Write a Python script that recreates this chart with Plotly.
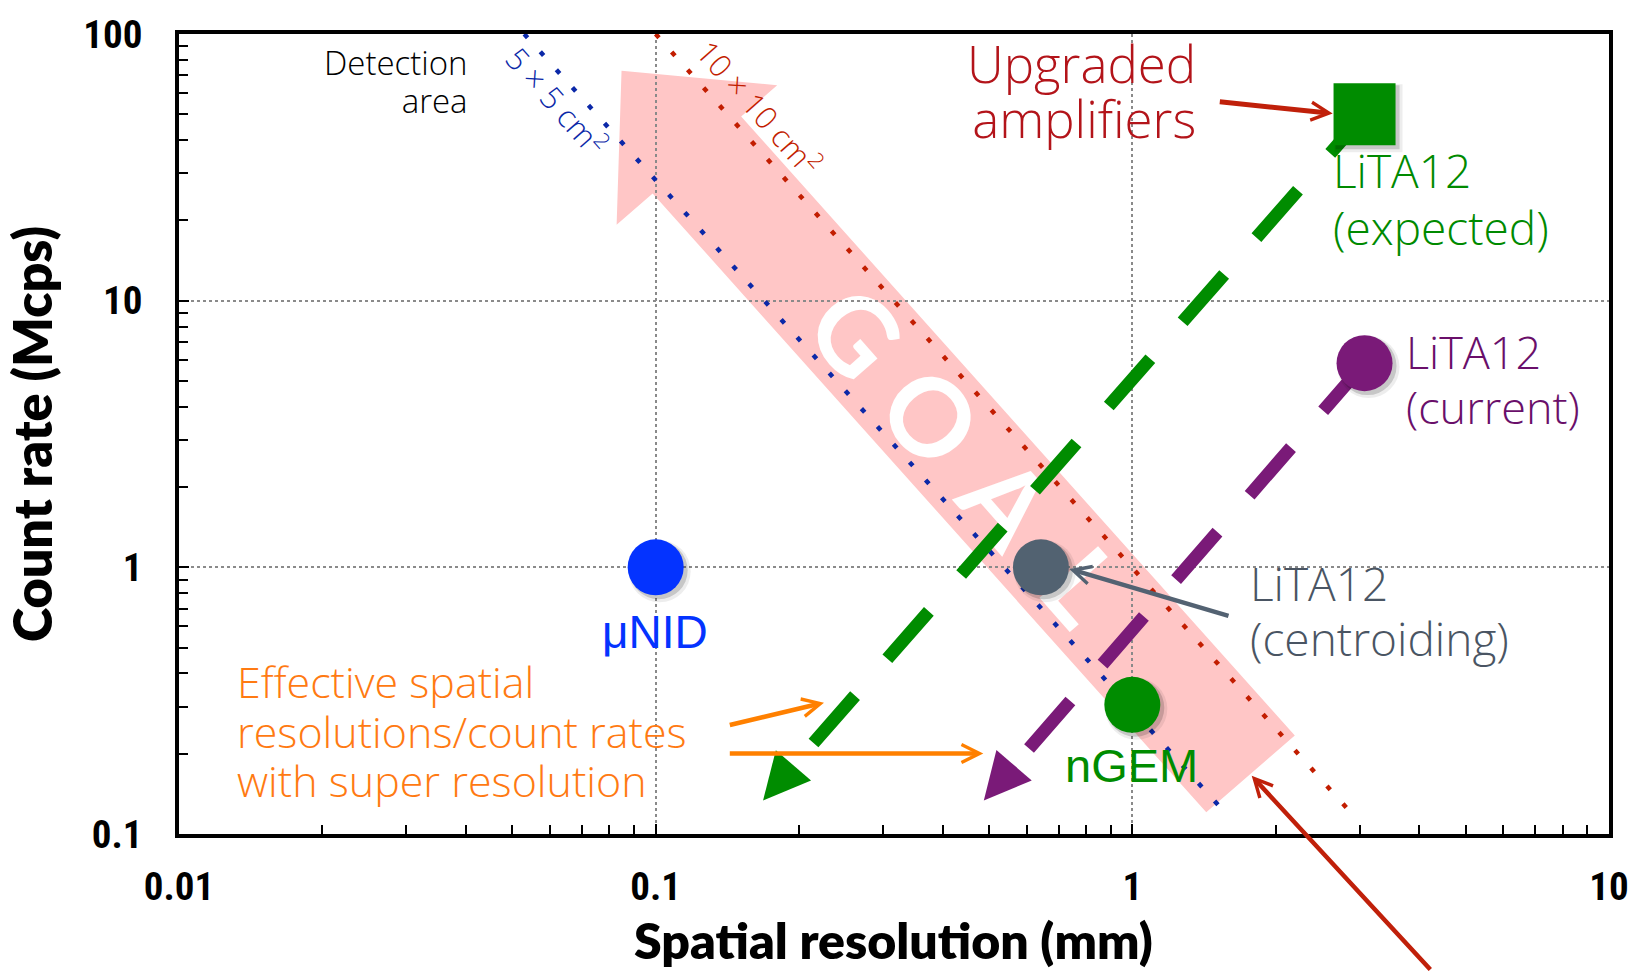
import numpy as np
import plotly.graph_objects as go

# ---------------------------------------------------------------- data
# Detector performance: spatial resolution (mm) vs count rate (Mcps)
DETECTORS = ["μNID", "LiTA12 (centroiding)", "nGEM", "LiTA12 (current)", "LiTA12 (expected)"]
RESOLUTION_MM = [0.1, 0.643, 1.0, 3.07, 3.07]
COUNT_RATE_MCPS = [1.0, 1.0, 0.305, 5.83, 50.0]

# Detection-area limits (end points of the dotted lines)
AREA_5X5_RES = [0.053, 1.6]
AREA_5X5_RATE = [100.0, 0.115]
AREA_10X10_RES = [0.1, 2.95]
AREA_10X10_RATE = [100.0, 0.114]

# Super-resolution projections: start point -> arrow tip
SR_CURRENT_RES = [3.07, 0.488]
SR_CURRENT_RATE = [5.83, 0.1335]
SR_EXPECTED_RES = [3.07, 0.168]
SR_EXPECTED_RATE = [50.0, 0.1335]

# GOAL arrow: tail -> tip
GOAL_RES = [1.77, 0.0848]
GOAL_RATE = [0.168, 72.85]

X_TICKS = [0.01, 0.1, 1, 10]
X_TICKTEXT = ["0.01", "0.1", "1", "10"]
Y_TICKS = [0.1, 1, 10, 100]
Y_TICKTEXT = ["0.1", "1", "10", "100"]

# ---------------------------------------------------------------- styling
W, H = 1643, 971
ML, MR, MT, MB = 179, 34, 22, 137
PW, PH = W - ML - MR, H - MT - MB
XLOG, YLOG = (-2, 1), (-1, 2)
SX = PW / (XLOG[1] - XLOG[0])   # px per decade
SY = PH / (YLOG[1] - YLOG[0])

LATO = "Lato, 'Open Sans', sans-serif"
THIN = "'Open Sans', Lato, sans-serif"
ARIAL = "'Liberation Sans', Arial, sans-serif"
TICKFONT = "'Liberation Sans Narrow', 'Roboto Condensed', 'DejaVu Sans Condensed', 'Liberation Sans', sans-serif"

GREEN = "#008c00"
PURPLE = "#7a1a78"
BLUE_DOT = "#0b28a8"
RED_DOT = "#c21d00"
ORANGE = "#ff8000"
DARK_RED = "#c0200a"
SLATE = "#536272"


def data_px(x, y):
    """data -> pixel inside the plot area (y up)"""
    return np.array([(np.log10(x) - XLOG[0]) * SX, (np.log10(y) - YLOG[0]) * SY])


def px_data(p):
    return 10 ** (p[0] / SX + XLOG[0]), 10 ** (p[1] / SY + YLOG[0])


def page_paper(px, py):
    """page pixel (y down) -> paper coordinates"""
    return (px - ML) / PW, 1 - (py - MT) / PH


fig = go.Figure()

# detection-area dotted lines
for res, rate, col in [(AREA_5X5_RES, AREA_5X5_RATE, BLUE_DOT),
                       (AREA_10X10_RES, AREA_10X10_RATE, RED_DOT)]:
    fig.add_trace(go.Scatter(x=res, y=rate, mode="lines",
                             line=dict(color=col, width=4.5, dash="5px,19px"),
                             hoverinfo="skip"))

# super-resolution dashed projections, stopped at the arrowhead base
HEAD_LEN = 44
arrowheads = []
for res, rate, col, dash in [
        (SR_EXPECTED_RES, SR_EXPECTED_RATE, GREEN,
         "52px,49px," + ",".join(["63px,49px"] * 12)),
        (SR_CURRENT_RES, SR_CURRENT_RATE, PURPLE, "63px,49px")]:
    p0, p1 = data_px(res[0], rate[0]), data_px(res[1], rate[1])
    u = (p1 - p0) / np.linalg.norm(p1 - p0)
    bx, by = px_data(p1 - u * HEAD_LEN)
    fig.add_trace(go.Scatter(x=[res[0], bx], y=[rate[0], by], mode="lines",
                             line=dict(color=col, width=13, dash=dash),
                             hoverinfo="skip"))
    arrowheads.append(dict(x=np.log10(res[1]), y=np.log10(rate[1]), xref="x", yref="y",
                           ax=-u[0] * 30, ay=u[1] * 30, text="", showarrow=True,
                           arrowhead=2, arrowsize=4.65, arrowwidth=2, arrowcolor=col))

# soft drop shadows of the markers
SIZES = [56, 56, 56, 56, 62]
SYMBOLS = ["circle", "circle", "circle", "circle", "square"]
COLORS = ["#0433ff", "#526271", GREEN, PURPLE, GREEN]
for off, grow, alpha in [(4, 6, 0.07), (3, 2, 0.16)]:
    fig.add_trace(go.Scatter(
        x=[x * 10 ** (off / SX) for x in RESOLUTION_MM],
        y=[y * 10 ** (-off / SY) for y in COUNT_RATE_MCPS],
        mode="markers", hoverinfo="skip",
        marker=dict(size=[s + grow for s in SIZES], symbol=SYMBOLS, opacity=1,
                    color=f"rgba(0,0,0,{alpha})", line=dict(width=0))))

fig.add_trace(go.Scatter(x=RESOLUTION_MM, y=COUNT_RATE_MCPS, mode="markers",
                         text=DETECTORS, hoverinfo="text",
                         marker=dict(size=SIZES, symbol=SYMBOLS, color=COLORS, opacity=1,
                                     line=dict(width=0))))

# ---------------------------------------------------------------- GOAL arrow
tail, tip = data_px(GOAL_RES[0], GOAL_RATE[0]), data_px(GOAL_RES[1], GOAL_RATE[1])
u = (tip - tail) / np.linalg.norm(tip - tail)
n = np.array([-u[1], u[0]])
SHAFT, HEAD_W, HEAD_L = 59, 107, 114
neck = tip - u * HEAD_L
outline = [tail - n * SHAFT, neck - n * SHAFT, neck - n * HEAD_W, tip,
           neck + n * HEAD_W, neck + n * SHAFT, tail + n * SHAFT]
path = "M" + " L".join(f"{p[0] / PW:.5f},{p[1] / PH:.5f}" for p in outline) + " Z"
shapes = [dict(type="path", path=path, xref="paper", yref="paper",
               fillcolor="#ffc6c6", line=dict(width=0), layer="below")]
angle = float(np.degrees(np.arctan2(u[1], -u[0])))
for ch, dist in zip("GOAL", [354, 468, 583, 697]):
    c = tip - u * dist - n * 3
    cx, cy = c[0] / PW, c[1] / PH
    shapes.append(dict(type="rect", xref="paper", yref="paper",
                       x0=cx - 0.0004, x1=cx + 0.0004, y0=cy - 0.0004, y1=cy + 0.0004,
                       line=dict(width=0), fillcolor="rgba(0,0,0,0)", layer="below",
                       label=dict(text=ch, textangle=angle, textposition="middle center",
                                  xanchor="center", yanchor="middle", padding=0,
                                  font=dict(family=LATO, size=108, color="white", weight=700))))

# ---------------------------------------------------------------- annotations
def label(s, px, py, size, color, anchor="left", family=THIN, weight=300, angle=0):
    x, y = page_paper(px, py)
    return dict(text=s, x=x, y=y, xref="paper", yref="paper", xanchor=anchor,
                yanchor="middle", showarrow=False, textangle=angle,
                font=dict(family=family, size=size, color=color, weight=weight))


def block(lines, px, py, glyph, spacing, color, anchor="left"):
    """multi-line text: glyph size and line pitch set independently"""
    txt = "<br>".join(f"<span style='font-size:{glyph}px'>{s}</span>" for s in lines)
    x, y = page_paper(px, py)
    return dict(text=txt, x=x, y=y, xref="paper", yref="paper", xanchor=anchor,
                yanchor="middle", align=anchor, showarrow=False,
                font=dict(family=THIN, size=spacing / 1.3, color=color, weight=300))


def pointer(tip_px, tail_px, color, width, size):
    x, y = page_paper(*tip_px)
    return dict(x=x, y=y, xref="paper", yref="paper", text="", showarrow=True,
                ax=tail_px[0] - tip_px[0], ay=tail_px[1] - tip_px[1],
                arrowhead=5, arrowsize=size, arrowwidth=width, arrowcolor=color)


ann = [
    block(["Detection", "area"], 469.6, 70, 33, 37.7, "black", "right"),
    label("5 × 5 cm<sup>2</sup>", 557, 90, 31, BLUE_DOT, "center", angle=angle),
    label("10 × 10 cm<sup>2</sup>", 759, 96, 31, RED_DOT, "center", angle=angle),
    block(["Upgraded", "amplifiers"], 1198, 79, 51, 55, "#b3141a", "right"),
    block(["LiTA12", "(expected)"], 1331, 188.5, 46, 56.7, "#008a00"),
    block(["LiTA12", "(current)"], 1404, 372.5, 45, 55, "#6a0f6a"),
    block(["LiTA12", "(centroiding)"], 1247.5, 607, 46, 55, "#4a5563"),
    block(["Effective spatial", "resolutions/count rates", "with super resolution"],
          234.5, 729, 43, 49.7, "#ff7a12"),
    label("μNID", 654.6, 629, 46, "#0433ff", "center", ARIAL, 400),
    label("nGEM", 1131.7, 764.4, 47, GREEN, "center", ARIAL, 400),
    label("Spatial resolution (mm)", 893.5, 942, 50, "black", "center", LATO, 800),
    label("Count rate (Mcps)", 32, 428, 52, "black", "center", LATO, 800, angle=-90),
]
ann += arrowheads
ann += [
    pointer((1332.7, 102.7), (1218.3, 90.7), DARK_RED, 5, 0.7),
    pointer((1069.3, 565), (1230, 612.3), SLATE, 4.5, 0.78),
    pointer((1251.7, 775), (1431.7, 985), DARK_RED, 4.5, 0.78),
    pointer((824, 700.7), (728.3, 723.3), ORANGE, 4.7, 0.75),
    pointer((983.3, 752.3), (728.3, 752.3), ORANGE, 4.7, 0.75),
]

axis_common = dict(
    type="log", showline=True, linewidth=3.5, linecolor="black", mirror=True,
    ticks="inside", ticklen=10, tickwidth=2, tickcolor="black",
    showgrid=True, gridcolor="#8a8a8a", griddash="dot", gridwidth=2,
    zeroline=False, ticklabeloverflow="allow",
    tickfont=dict(family=TICKFONT, size=39, color="black", weight=700),
)
minor_x = [m * d for d in X_TICKS[:-1] for m in range(2, 10)]
minor_y = [m * d for d in Y_TICKS[:-1] for m in range(2, 10)]

fig.update_layout(
    width=W, height=H, margin=dict(l=ML, r=MR, t=MT, b=MB),
    paper_bgcolor="white", plot_bgcolor="white", showlegend=False,
    xaxis=dict(range=list(XLOG), tickvals=X_TICKS, ticktext=X_TICKTEXT,
               ticklabelstandoff=15,
               minor=dict(tickvals=minor_x, ticks="inside", ticklen=9, tickwidth=2,
                          tickcolor="black", showgrid=False),
               **axis_common),
    yaxis=dict(range=list(YLOG), tickvals=Y_TICKS, ticktext=Y_TICKTEXT,
               ticklabelstandoff=25,
               minor=dict(tickvals=minor_y, ticks="inside", ticklen=9, tickwidth=2,
                          tickcolor="black", showgrid=False),
               **axis_common),
    shapes=shapes,
    annotations=ann,
)

fig.write_html("out.html")
